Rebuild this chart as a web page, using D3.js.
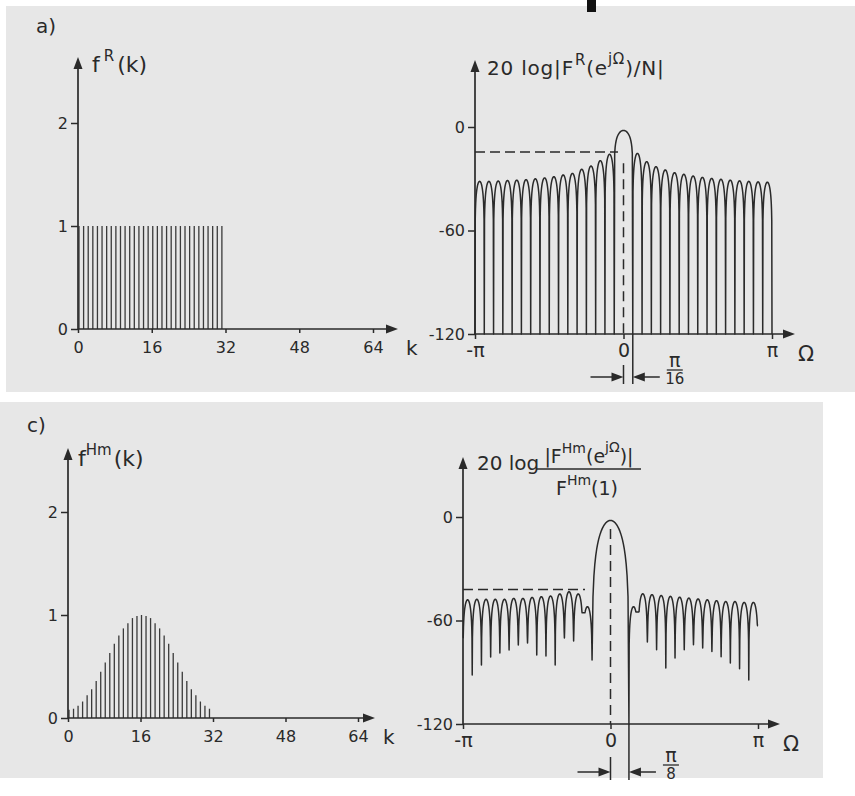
<!DOCTYPE html>
<html>
<head>
<meta charset="utf-8">
<script src="https://cdn.jsdelivr.net/npm/d3@7"></script>
<style>
  body { margin: 0; background: #fff; }
  svg { display: block; }
  text { font-family: "DejaVu Sans", "Liberation Sans", sans-serif; fill: #2a2a2a; }
</style>
</head>
<body>
<script>
// ---- data ----
// a) rectangular window, 32 samples
const kRect = [0, 1, 2, 3, 4, 5, 6, 7, 8, 9, 10, 11, 12, 13, 14, 15,
  16, 17, 18, 19, 20, 21, 22, 23, 24, 25, 26, 27, 28, 29, 30, 31];
const fRect = [1, 1, 1, 1, 1, 1, 1, 1, 1, 1, 1, 1, 1, 1, 1, 1,
  1, 1, 1, 1, 1, 1, 1, 1, 1, 1, 1, 1, 1, 1, 1, 1];

// c) Hamming window, 32 samples
const kHam = [0, 1, 2, 3, 4, 5, 6, 7, 8, 9, 10, 11, 12, 13, 14, 15,
  16, 17, 18, 19, 20, 21, 22, 23, 24, 25, 26, 27, 28, 29, 30, 31];
const fHam = [0.08, 0.09, 0.12, 0.16, 0.22, 0.28, 0.36, 0.45, 0.54, 0.63, 0.72, 0.8, 0.87, 0.92, 0.97, 0.99,
  1.0, 0.99, 0.97, 0.92, 0.87, 0.8, 0.72, 0.63, 0.54, 0.45, 0.36, 0.28, 0.22, 0.16, 0.12, 0.09];

// spectra: null positions (in units of pi/16), level at each null (dB),
// and the peak level of each lobe between two neighbouring nulls (dB)
const rectNullBins = [-16, -15, -14, -13, -12, -11, -10, -9, -8, -7, -6, -5, -4, -3, -2, -1,
  1, 2, 3, 4, 5, 6, 7, 8, 9, 10, 11, 12, 13, 14, 15, 16];
const rectNullDb = [-120, -120, -120, -120, -120, -120, -120, -120, -120, -120, -120, -120, -120, -120, -120, -120,
  -120, -120, -120, -120, -120, -120, -120, -120, -120, -120, -120, -120, -120, -120, -120, -120];
const rectPeakDb = [-31.5, -31.5, -31.3, -31, -30.8, -30.5, -30, -29.5, -28.8, -27.8, -26.9, -24.5, -22.6, -19.5, -15.8,
  -2,
  -15.3, -20.1, -23, -24.9, -26.5, -27.4, -28.4, -29.2, -29.8, -30.3, -30.8, -31.2, -31.5, -31.8, -32];

const hamNullBins = [-16, -15, -14, -13, -12, -11, -10, -9, -8, -7, -6, -5, -4, -3, -2,
  2, 3, 4, 5, 6, 7, 8, 9, 10, 11, 12, 13, 14, 15, 16];
const hamNullDb = [-70, -91.6, -85.8, -81.2, -78.8, -77.1, -74.2, -73, -80, -80.6, -85.8, -70.1, -71.9, -55.5, -82.9,
  -120, -55, -72.5, -77, -87.5, -81.7, -77, -74, -76, -78, -81, -84.6, -88, -94.5, -63];
const hamPeakDb = [-48, -47.7, -47.7, -47.7, -47.7, -47.2, -47.2, -46.6, -46.2, -45.8, -44.6, -43.3, -44.6, -52,
  -2,
  -52, -44.5, -45, -45.5, -46, -46.5, -47, -47.5, -48, -48.5, -49, -49, -49.5, -49.5];

// axes
const kTicks = [0, 16, 32, 48, 64];
const fTicks = [0, 1, 2];
const dbTicks = [-120, -60, 0];
const omegaTicks = [-Math.PI, 0, Math.PI];
const omegaTickLabels = ["-π", "0", "π"];

const ink = "#2a2a2a";

const svg = d3.select("body")
  .append("svg")
  .attr("width", 855)
  .attr("height", 796);

// scanned page look
svg.append("rect").attr("x", 6).attr("y", 6).attr("width", 849).attr("height", 386).attr("fill", "#e7e7e7");
svg.append("rect").attr("x", 0).attr("y", 402).attr("width", 823).attr("height", 376).attr("fill", "#e7e7e7");
svg.append("rect").attr("x", 587).attr("y", 0).attr("width", 9).attr("height", 12).attr("fill", "#111");

function arrowHead(g, x, y, dir) {
  // dir: "up" or "right"
  const L = 12, W = 4.5;
  const pts = dir === "up"
    ? [[x, y], [x - W, y + L], [x + W, y + L]]
    : [[x, y], [x - L, y - W], [x - L, y + W]];
  g.append("path").attr("d", "M" + pts.join("L") + "Z").attr("fill", ink);
}

function styleAxis(a) {
  a.attr("font-size", 16)
    .attr("font-family", "DejaVu Sans, sans-serif")
    .attr("color", ink);
  a.select(".domain").remove();
  a.selectAll("line").attr("stroke-width", 1.5);
  a.selectAll("text").attr("fill", ink);
}

function drawAxes(g, xAt, yAt, yTop, xEnd, xAxis, yAxis) {
  g.append("g").attr("transform", `translate(${xAt},0)`).call(yAxis).call(styleAxis);
  const xa = g.append("g").attr("transform", `translate(0,${yAt})`).call(xAxis).call(styleAxis);
  g.append("line").attr("x1", xAt).attr("x2", xAt).attr("y1", yAt).attr("y2", yTop + 4)
    .attr("stroke", ink).attr("stroke-width", 1.7);
  g.append("line").attr("x1", xAt).attr("x2", xEnd - 4).attr("y1", yAt).attr("y2", yAt)
    .attr("stroke", ink).attr("stroke-width", 1.7);
  arrowHead(g, xAt, yTop, "up");
  arrowHead(g, xEnd, yAt, "right");
  return xa;
}

// ---- sample plots (left) ----
function stemPanel(o) {
  const g = svg.append("g");
  const x = d3.scaleLinear().domain([0, 64]).range(o.xr);
  const y = d3.scaleLinear().domain([0, 2]).range(o.yr);

  g.selectAll("line.stem")
    .data(o.k)
    .enter()
    .append("line")
    .attr("class", "stem")
    .attr("x1", (d) => x(d) + 1)
    .attr("x2", (d) => x(d) + 1)
    .attr("y1", y(0))
    .attr("y2", (d, i) => y(o.v[i]))
    .attr("stroke", "#3a3a3a")
    .attr("stroke-width", 1.3);

  drawAxes(g, x(0), y(0), o.yTop, o.xEnd,
    d3.axisBottom(x).tickValues(kTicks).tickFormat(d3.format("d")).tickSize(4).tickPadding(9),
    d3.axisLeft(y).tickValues(fTicks).tickFormat(d3.format("d")).tickSize(7).tickPadding(3));

  g.append("text").attr("x", o.xEnd + 8).attr("y", y(0) + 26).attr("font-size", 20).text("k");
  return { x, y };
}

// ---- spectra (right) ----
function lobePoints(a, b, peak, da, db, sharp) {
  const pts = [];
  const n = 40;
  for (let i = 0; i <= n; i++) {
    const t = i / n;
    const s = Math.sin(Math.PI * t);
    let v = s > 1e-9 ? peak + sharp * 20 * Math.log10(s) : -1e9;
    v = Math.max(v, t <= 0.5 ? da : db);
    pts.push([a + (b - a) * t, v]);
  }
  return pts;
}

function spectrumPanel(o) {
  const g = svg.append("g");
  const x = d3.scaleLinear().domain([-Math.PI, Math.PI]).range(o.xr);
  const y = d3.scaleLinear().domain([-120, 0]).range(o.yr);

  let pts = [];
  for (let i = 0; i < o.peaks.length; i++) {
    const a = o.bins[i], b = o.bins[i + 1];
    const sharp = a < 0 && b > 0 ? o.mainSharp : 1;
    pts = pts.concat(lobePoints(a, b, o.peaks[i], o.nullDb[i], o.nullDb[i + 1], sharp));
  }
  const line = d3.line()
    .x((d) => x(d[0] * Math.PI / 16))
    .y((d) => y(d[1]));
  g.append("path")
    .attr("d", line(pts))
    .attr("fill", "none")
    .attr("stroke", ink)
    .attr("stroke-width", 1.5)
    .attr("stroke-linejoin", "round");

  const xa = drawAxes(g, x(-Math.PI), y(-120), o.yTop, o.xEnd,
    d3.axisBottom(x).tickValues(omegaTicks).tickFormat((d, i) => omegaTickLabels[i]).tickSize(5).tickPadding(5),
    d3.axisLeft(y).tickValues(dbTicks).tickFormat((d) => String(d)).tickSize(7).tickPadding(3));
  xa.selectAll("text").attr("font-size", 19);
  g.append("text").attr("x", o.xEnd + 3).attr("y", y(-120) + 27).attr("font-size", 21).text("Ω");

  // side lobe level
  g.append("line")
    .attr("x1", x(-Math.PI)).attr("x2", o.dashEnd)
    .attr("y1", y(o.dashDb)).attr("y2", y(o.dashDb))
    .attr("stroke", ink).attr("stroke-width", 1.5).attr("stroke-dasharray", "10,5");
  // Omega = 0
  g.append("line")
    .attr("x1", x(0)).attr("x2", x(0))
    .attr("y1", y(o.zeroDashTop)).attr("y2", y(-120))
    .attr("stroke", ink).attr("stroke-width", 1.5).attr("stroke-dasharray", "10,6");
  g.append("line")
    .attr("x1", x(0)).attr("x2", x(0))
    .attr("y1", o.dimTop).attr("y2", o.dimBottom)
    .attr("stroke", ink).attr("stroke-width", 1.5);
  // first null
  const xn = x(o.nullAt);
  g.append("line")
    .attr("x1", xn).attr("x2", xn)
    .attr("y1", y(-120)).attr("y2", o.dimBottom)
    .attr("stroke", ink).attr("stroke-width", 1.5);
  // dimension arrows
  const ya = o.dimY;
  g.append("line").attr("x1", x(0) - 33).attr("x2", x(0) - 8).attr("y1", ya).attr("y2", ya)
    .attr("stroke", ink).attr("stroke-width", 1.5);
  arrowHead(g, x(0), ya, "right");
  g.append("line").attr("x1", xn + 8).attr("x2", xn + 27).attr("y1", ya).attr("y2", ya)
    .attr("stroke", ink).attr("stroke-width", 1.5);
  g.append("path")
    .attr("d", `M${xn},${ya}L${xn + 12},${ya - 4.5}L${xn + 12},${ya + 4.5}Z`)
    .attr("fill", ink);
  // fraction label pi / n
  const fx = xn + 42;
  g.append("text").attr("x", fx).attr("y", ya - 10).attr("text-anchor", "middle").attr("font-size", 19).text("π");
  g.append("line").attr("x1", fx - 8).attr("x2", fx + 8).attr("y1", ya - 7).attr("y2", ya - 7)
    .attr("stroke", ink).attr("stroke-width", 1.3);
  g.append("text").attr("x", fx).attr("y", ya + 7).attr("text-anchor", "middle").attr("font-size", 15).text(o.den);
  return { x, y };
}

// ---- panel a ----
svg.append("text").attr("x", 36).attr("y", 33).attr("font-size", 20).text("a)");
stemPanel({ k: kRect, v: fRect, xr: [78, 373], yr: [329, 123], yTop: 57, xEnd: 398 });
const la = svg.append("text").attr("x", 92).attr("y", 72).attr("font-size", 22);
la.append("tspan").text("f");
la.append("tspan").attr("dx", 4).attr("dy", -11).attr("font-size", 15).text("R");
la.append("tspan").attr("dx", 3).attr("dy", 11).text("(k)");

spectrumPanel({
  bins: rectNullBins, nullDb: rectNullDb, peaks: rectPeakDb, mainSharp: 0.6,
  xr: [475, 772], yr: [334, 127], yTop: 60, xEnd: 795,
  dashDb: -14.5, dashEnd: 618, zeroDashTop: -21, nullAt: Math.PI / 16,
  dimTop: 365, dimBottom: 384, dimY: 377, den: "16"
});
const ra = svg.append("text").attr("x", 487).attr("y", 75).attr("font-size", 20).attr("letter-spacing", 0.8);
ra.append("tspan").text("20 log|F");
ra.append("tspan").attr("dx", 1).attr("dy", -10).attr("font-size", 15).text("R");
ra.append("tspan").attr("dy", 10).text("(e");
ra.append("tspan").attr("dy", -11).attr("font-size", 15).text("jΩ");
ra.append("tspan").attr("dy", 11).text(")/N|");

// ---- panel c ----
svg.append("text").attr("x", 27).attr("y", 432).attr("font-size", 20).text("c)");
stemPanel({ k: kHam, v: fHam, xr: [68, 358], yr: [718, 512], yTop: 448, xEnd: 375 });
const lc = svg.append("text").attr("x", 78).attr("y", 466).attr("font-size", 22);
lc.append("tspan").text("f");
lc.append("tspan").attr("dx", 0).attr("dy", -11).attr("font-size", 15).text("Hm");
lc.append("tspan").attr("dx", 2).attr("dy", 11).text("(k)");

spectrumPanel({
  bins: hamNullBins, nullDb: hamNullDb, peaks: hamPeakDb, mainSharp: 2,
  xr: [463, 758], yr: [724, 517], yTop: 457, xEnd: 780,
  dashDb: -42, dashEnd: 585, zeroDashTop: -7, nullAt: Math.PI / 8,
  dimTop: 757, dimBottom: 780, dimY: 772, den: "8"
});
svg.append("text").attr("x", 477).attr("y", 470).attr("font-size", 20).text("20 log");
const num = svg.append("text").attr("x", 589).attr("y", 463).attr("text-anchor", "middle").attr("font-size", 19);
num.append("tspan").text("|F");
num.append("tspan").attr("dy", -10).attr("font-size", 14).text("Hm");
num.append("tspan").attr("dy", 10).text("(e");
num.append("tspan").attr("dy", -11).attr("font-size", 14).text("jΩ");
num.append("tspan").attr("dy", 11).text(")|");
svg.append("line").attr("x1", 537).attr("x2", 641).attr("y1", 469).attr("y2", 469)
  .attr("stroke", ink).attr("stroke-width", 1.5);
const den = svg.append("text").attr("x", 587).attr("y", 495).attr("text-anchor", "middle").attr("font-size", 19);
den.append("tspan").text("F");
den.append("tspan").attr("dy", -10).attr("font-size", 14).text("Hm");
den.append("tspan").attr("dy", 10).text("(1)");
</script>
</body>
</html>
